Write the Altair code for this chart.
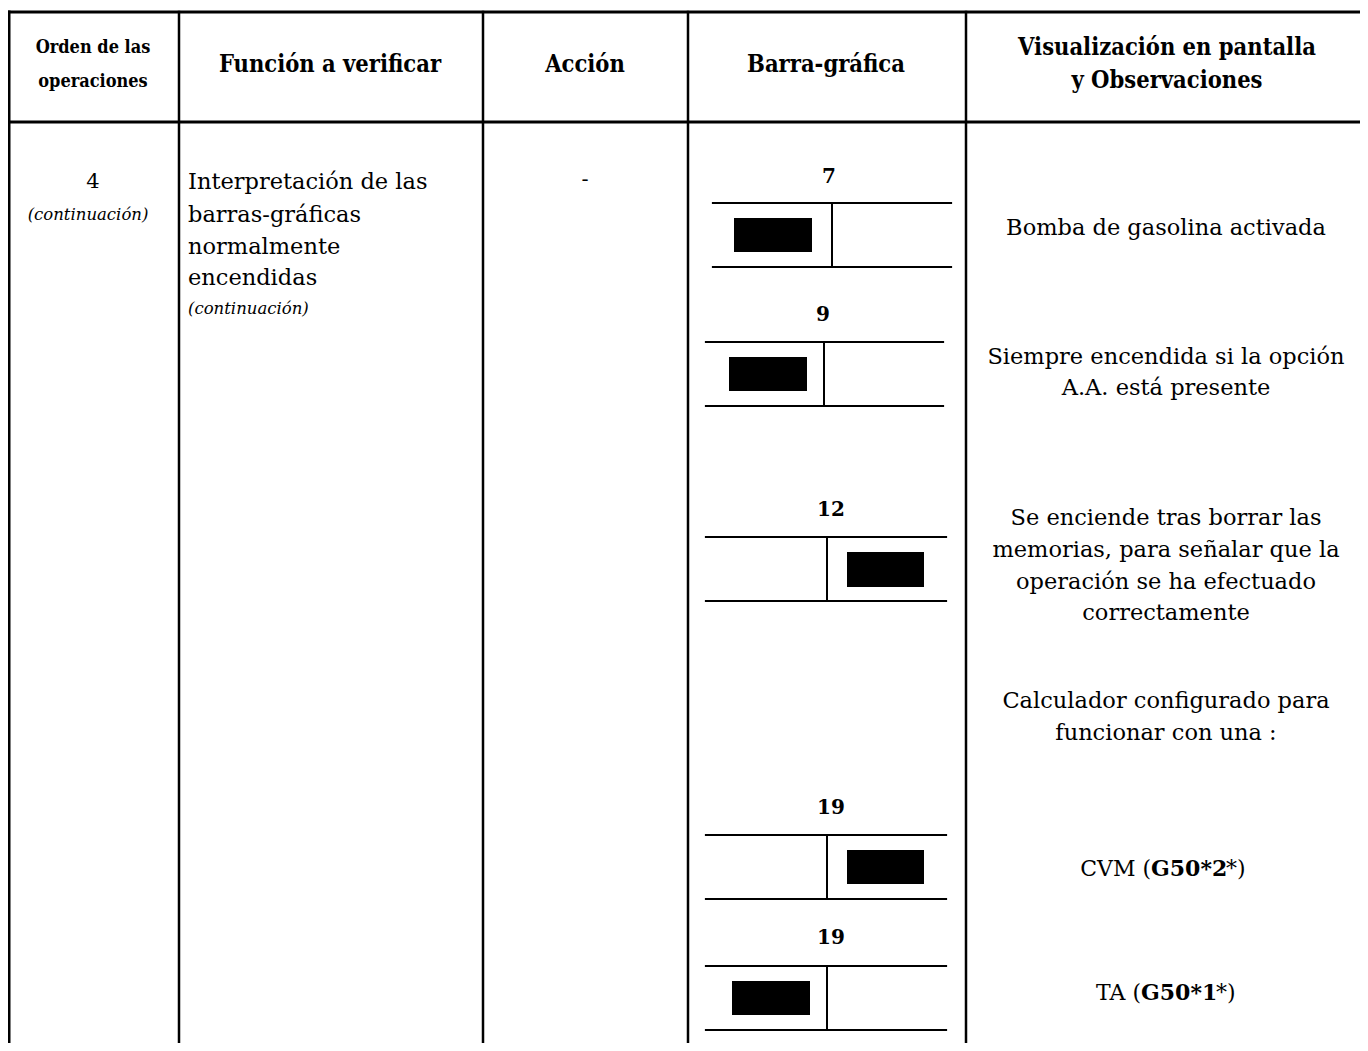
import altair as alt
import pandas as pd

# ---------------- table structure (pixel layout of the sheet) ----------------
col_edges = [9, 179, 483, 688, 966]
table_right = 1360
table_top = 12
header_bottom = 122
table_bottom = 1043

# ---------------- header texts ----------------
header_texts = ["Orden de las", "operaciones", "Función a verificar", "Acción",
                "Barra-gráfica", "Visualización en pantalla", "y Observaciones"]
header_x = [93, 93, 330, 585, 826, 1167, 1167]
header_y = [48, 82, 65, 65, 65, 48, 81]
header_size = [18, 18, 23.5, 23.5, 23.5, 23.5, 23.5]

# ---------------- body texts ----------------
step_texts = ["4", "-"]
step_x = [93, 585]
step_y = [182, 180]

cont_texts = ["(continuación)"]
cont_x = [88]
cont_y = [215]

func_texts = ["Interpretación de las", "barras-gráficas", "normalmente", "encendidas"]
func_y = [182, 215, 247, 278]
func_x = 188
func_cont_y = 309

obs_texts = ["Bomba de gasolina activada",
             "Siempre encendida si la opción", "A.A. está presente",
             "Se enciende tras borrar las", "memorias, para señalar que la",
             "operación se ha efectuado", "correctamente",
             "Calculador configurado para", "funcionar con una :"]
obs_y = [228, 357, 388, 518, 550, 582, 613, 701, 733]
obs_x = 1166

# mixed-weight observation lines: regular prefix, bold code, regular suffix
code_prefix = ["CVM (", "TA ("]
code_bold = ["G50*2", "G50*1"]
code_suffix = ["*)", "*)"]
code_y = [869, 993]
code_split = [1151, 1141]
code_bold_w = [75, 75]

# ---------------- bar-graphic indicators ----------------
bar_labels = ["7", "9", "12", "19", "19"]
label_x = [829, 823, 831, 831, 831]
label_y = [177, 315, 510, 808, 938]
frame_left = [713, 706, 706, 706, 706]
frame_right = [951, 943, 946, 946, 946]
frame_top = [203, 342, 537, 835, 966]
frame_bottom = [267, 406, 601, 899, 1030]
divider_x = [832, 824, 827, 827, 827]
lit_x0 = [734, 729, 847, 847, 732]
lit_x1 = [812, 807, 924, 924, 810]
lit_y0 = [218, 357, 552, 850, 981]
lit_y1 = [252, 391, 587, 884, 1015]

# ---------------- build tables ----------------
lines = []
lines.append(dict(x=8, x2=table_right, y=table_top, y2=table_top, w=3))
lines.append(dict(x=8, x2=table_right, y=header_bottom, y2=header_bottom, w=3))
for i, cx in enumerate(col_edges):
    lines.append(dict(x=cx, x2=cx, y=table_top, y2=table_bottom, w=3 if i == 0 else 2.5))
for i in range(len(bar_labels)):
    lines.append(dict(x=frame_left[i], x2=frame_right[i], y=frame_top[i], y2=frame_top[i], w=2.2))
    lines.append(dict(x=frame_left[i], x2=frame_right[i], y=frame_bottom[i], y2=frame_bottom[i], w=2.2))
    lines.append(dict(x=divider_x[i], x2=divider_x[i], y=frame_top[i], y2=frame_bottom[i], w=2))
lines_df = pd.DataFrame(lines)

rects_df = pd.DataFrame(dict(x=lit_x0, x2=lit_x1, y=lit_y0, y2=lit_y1))

header_df = pd.DataFrame(dict(t=header_texts, x=header_x, y=header_y, s=header_size))
step_df = pd.DataFrame(dict(t=step_texts, x=step_x, y=step_y))
cont_df = pd.DataFrame(dict(t=cont_texts, x=cont_x, y=cont_y))
func_df = pd.DataFrame(dict(t=func_texts, x=[func_x] * len(func_texts), y=func_y))
func_cont_df = pd.DataFrame(dict(t=["(continuación)"], x=[func_x], y=[func_cont_y]))
obs_df = pd.DataFrame(dict(t=obs_texts, x=[obs_x] * len(obs_texts), y=obs_y))
label_df = pd.DataFrame(dict(t=bar_labels, x=label_x, y=label_y))
pre_df = pd.DataFrame(dict(t=code_prefix, x=code_split, y=code_y))
bold_df = pd.DataFrame(dict(t=code_bold, x=code_split, y=code_y))
suf_df = pd.DataFrame(dict(t=code_suffix, x=[a + b for a, b in zip(code_split, code_bold_w)], y=code_y))

W, H = 1352, 1035
xs = alt.Scale(domain=[8, 8 + W])
ys = alt.Scale(domain=[8, 8 + H], reverse=True)
X = lambda f="x": alt.X(f"{f}:Q", scale=xs, axis=None)
Y = lambda f="y": alt.Y(f"{f}:Q", scale=ys, axis=None)

SERIF = "DejaVu Serif"
HEAD = "DejaVu Serif Condensed"

rules = alt.Chart(lines_df).mark_rule(color="black", strokeCap="square").encode(
    x=X(), x2="x2:Q", y=Y(), y2="y2:Q", size=alt.Size("w:Q", scale=None, legend=None))
lit = alt.Chart(rects_df).mark_rect(color="black").encode(x=X(), x2="x2:Q", y=Y(), y2="y2:Q")

def txt(df, font, size=None, weight="normal", style="normal", align="center"):
    kw = dict(font=font, fontWeight=weight, fontStyle=style, align=align,
              baseline="middle", color="black")
    if size is not None:
        kw["fontSize"] = size
    enc = dict(x=X(), y=Y(), text="t:N")
    if size is None:
        enc["size"] = alt.Size("s:Q", scale=None, legend=None)
    return alt.Chart(df).mark_text(**kw).encode(**enc)

layers = [
    rules, lit,
    txt(header_df, HEAD, weight="bold"),
    txt(step_df, SERIF, 21, weight=500),
    txt(cont_df, SERIF, 16.5, style="italic"),
    txt(func_df, SERIF, 22.5, align="left"),
    txt(func_cont_df, SERIF, 16.5, style="italic", align="left"),
    txt(obs_df, SERIF, 22.5),
    txt(label_df, SERIF, 20, weight="bold"),
    txt(pre_df, SERIF, 22, align="right"),
    txt(bold_df, SERIF, 22, weight="bold", align="left"),
    txt(suf_df, SERIF, 22, align="left"),
]

chart = alt.layer(*layers).properties(
    width=W, height=H, padding=0, autosize=alt.AutoSizeParams(type="none"),
    background="white",
).configure_view(stroke=None)

chart.save("out.html", embed_options={"renderer": "svg", "actions": False})
